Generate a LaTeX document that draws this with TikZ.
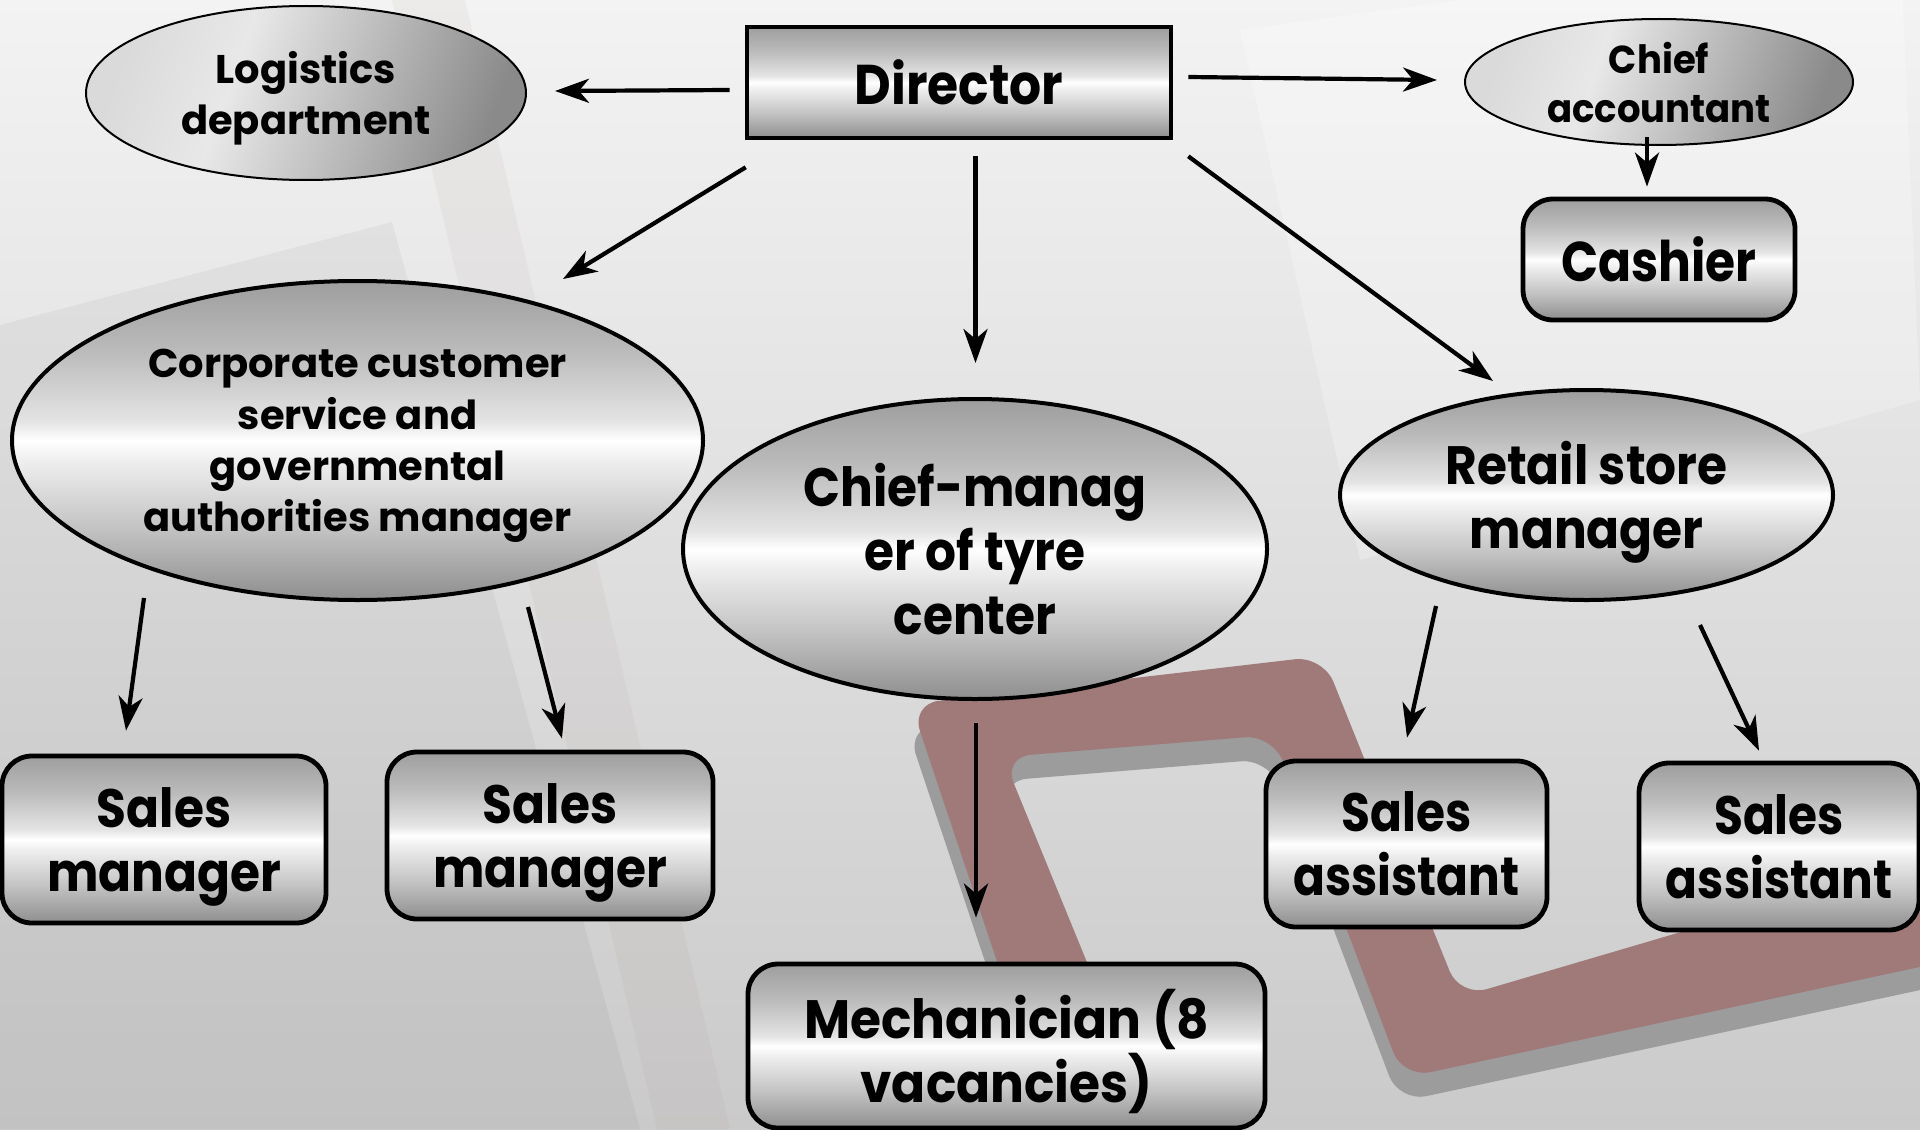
\documentclass[tikz,border=0pt]{standalone}
\usepackage{fontspec}
\newfontfamily\bigf{Poppins}[FakeStretch=0.9]
\newfontfamily\bign{Poppins}[FakeStretch=0.87]
\newfontfamily\bigw{Poppins}[FakeStretch=0.93]
\newfontfamily\smf{Poppins}[FakeStretch=1.0]
\newfontfamily\smn{Poppins}[FakeStretch=0.95]
\usetikzlibrary{arrows.meta,calc,shapes.geometric}
\definecolor{bgtop}{HTML}{F3F3F3}
\definecolor{bgbot}{HTML}{CACACA}
\definecolor{frame}{HTML}{A07979}
\definecolor{frameshad}{HTML}{9C9C9C}
\definecolor{mA}{HTML}{8E8E8E}
\definecolor{mB}{HTML}{C2C2C2}
\definecolor{mC}{HTML}{EFEFEF}
\definecolor{mD}{HTML}{E4E4E4}
\definecolor{mE}{HTML}{BBBBBB}
\definecolor{mF}{HTML}{9E9E9E}
\definecolor{lA}{HTML}{DADADA}
\definecolor{lB}{HTML}{E8E8E8}
\definecolor{lC}{HTML}{8A8A8A}
\pgfdeclareverticalshading{metal}{100bp}{color(0bp)=(mA); color(25bp)=(mA); color(36bp)=(mB); color(47bp)=(mC); color(50bp)=(white); color(53bp)=(mD); color(64bp)=(mE); color(75bp)=(mF); color(100bp)=(mF)}
\pgfdeclarehorizontalshading{lmetal}{100bp}{color(0bp)=(lA); color(25bp)=(lA); color(40bp)=(lB); color(75bp)=(lC); color(100bp)=(lC)}
\tikzset{
  bigtext/.style={font=\bigf\bfseries\fontsize{27pt}{32pt}\selectfont},
  smtext/.style={font=\smf\bfseries\fontsize{20pt}{25.7pt}\selectfont},
  box/.style={draw, line width=2.4pt, rounded corners=15pt, shade, shading=metal, inner sep=0pt, align=center, bigtext, text depth=0pt},
  rectbox/.style={draw, line width=2.3pt, shade, shading=metal, inner sep=0pt, align=center, bigtext},
  bigell/.style={ellipse, draw, line width=2pt, shade, shading=metal, inner sep=0pt, align=center, text depth=0pt},
  smell/.style={ellipse, draw, line width=1pt, shade, shading=lmetal, shading angle=-20, inner sep=0pt, align=center, smtext, text depth=0pt},
  arr/.style={line width=2.1pt, -{Stealth[length=17pt,width=12pt,inset=5pt]}}
}
\begin{document}
\begin{tikzpicture}[x=0.5pt,y=-0.5pt]
\useasboundingbox (0,0) rectangle (1920,1129);
% background
\shade[top color=bgtop, bottom color=bgbot] (0,0) rectangle (1920,1129);
\fill[black, opacity=0.04] (0,325) -- (392,222) -- (640,1129) -- (0,1129) -- cycle;
\fill[frame, opacity=0.07] (392,0) -- (465,0) -- (730,1129) -- (657,1129) -- cycle;
\fill[white, opacity=0.25] (1240,30) -- (1900,-60) -- (1920,400) -- (1360,560) -- cycle;
% decorative frame (shadow, then band)
\begin{scope}[shift={(-4,24)}]
\fill[frameshad, rounded corners=14pt]
  (1070,1180) -- (911,704) -- (1323,656) -- (1460,997) -- (1980,844)
  -- (1980,954) -- (1403,1078) -- (1273,735) -- (1003,757) -- (1176,1180) -- cycle;
\end{scope}
\fill[frame, rounded corners=14pt]
  (1070,1180) -- (911,704) -- (1323,656) -- (1460,997) -- (1980,844)
  -- (1980,954) -- (1403,1078) -- (1273,735) -- (1003,757) -- (1176,1180) -- cycle;
% nodes
\node[smell, minimum width=220pt, minimum height=87pt] (logi) at (306,93) {Logistics\\department};
\node[rectbox, minimum width=212pt, minimum height=55.5pt, font=\bigf\bfseries\fontsize{28pt}{32pt}\selectfont] (dir) at (959,82.5) {Director};
\node[smell, minimum width=194pt, minimum height=63pt, font=\smn\bfseries\fontsize{19.5pt}{24.5pt}\selectfont] (acc) at (1659,82) {Chief\\accountant};
\node[box, minimum width=136pt, minimum height=60.5pt, font=\bign\bfseries\fontsize{28pt}{32pt}\selectfont] (cash) at (1659,259.5) {Cashier};
\node[bigell, smtext, minimum width=345.5pt, minimum height=159.5pt] (corp) at (357.5,440.5) {Corporate customer\\service and\\governmental\\authorities manager};
\node[bigell, bigtext, minimum width=292pt, minimum height=150pt] (cm) at (975,549) {Chief-manag\\er of tyre\\center};
\node[bigell, bigtext, minimum width=246.5pt, minimum height=105pt] (ret) at (1586.5,495) {Retail store\\manager};
\node[box, minimum width=162pt, minimum height=83.5pt] (sm1) at (164,839.5) {Sales\\manager};
\node[box, minimum width=163pt, minimum height=83.5pt] (sm2) at (550,835.5) {Sales\\manager};
\node[box, minimum width=258.5pt, minimum height=82pt, font=\bigw\bfseries\fontsize{27pt}{32pt}\selectfont] (mech) at (1006.5,1046) {Mechanician (8\\vacancies)};
\node[box, minimum width=140.5pt, minimum height=83pt, font=\bign\bfseries\fontsize{27pt}{32pt}\selectfont] (sa1) at (1406.5,844) {Sales\\assistant};
\node[box, minimum width=140pt, minimum height=83.5pt, font=\bign\bfseries\fontsize{27pt}{32pt}\selectfont] (sa2) at (1779,846.5) {Sales\\assistant};
% connectors
\draw[arr] ($(dir.west)+(-15,7.5)$) -- ($(logi.east)+(28,-2)$);
\draw[arr] ($(dir.east)+(15,-5.5)$) -- ($(acc.west)+(-27,-2)$);
\draw[arr] ($(acc.south)+(-12,-9)$) -- ($(cash.north)+(-12,-10)$);
\draw[arr] ($(dir.south west)+(1,27)$) -- ($(corp.north)+(205.5,0)$);
\draw[arr] ($(dir.south)+(16.5,16)$) -- ($(cm.north)+(0.5,-34)$);
\draw[arr] ($(dir.south east)+(15,16)$) -- ($(ret.north)+(-93.5,-7)$);
\draw[arr] ($(corp.south)+(-213.5,-4)$) -- ($(sm1.north)+(-38,-23)$);
\draw[arr] ($(corp.south)+(170.5,5)$) -- ($(sm2.north)+(12,-11)$);
\draw[arr] ($(cm.south)+(1,22)$) -- ($(mech.north)+(-30.5,-44)$);
\draw[arr] ($(ret.south)+(-150.5,4)$) -- ($(sa1.north)+(0.5,-21)$);
\draw[arr] ($(ret.south)+(113.5,23)$) -- ($(sa2.north)+(-20,-10)$);
\end{tikzpicture}
\end{document}
